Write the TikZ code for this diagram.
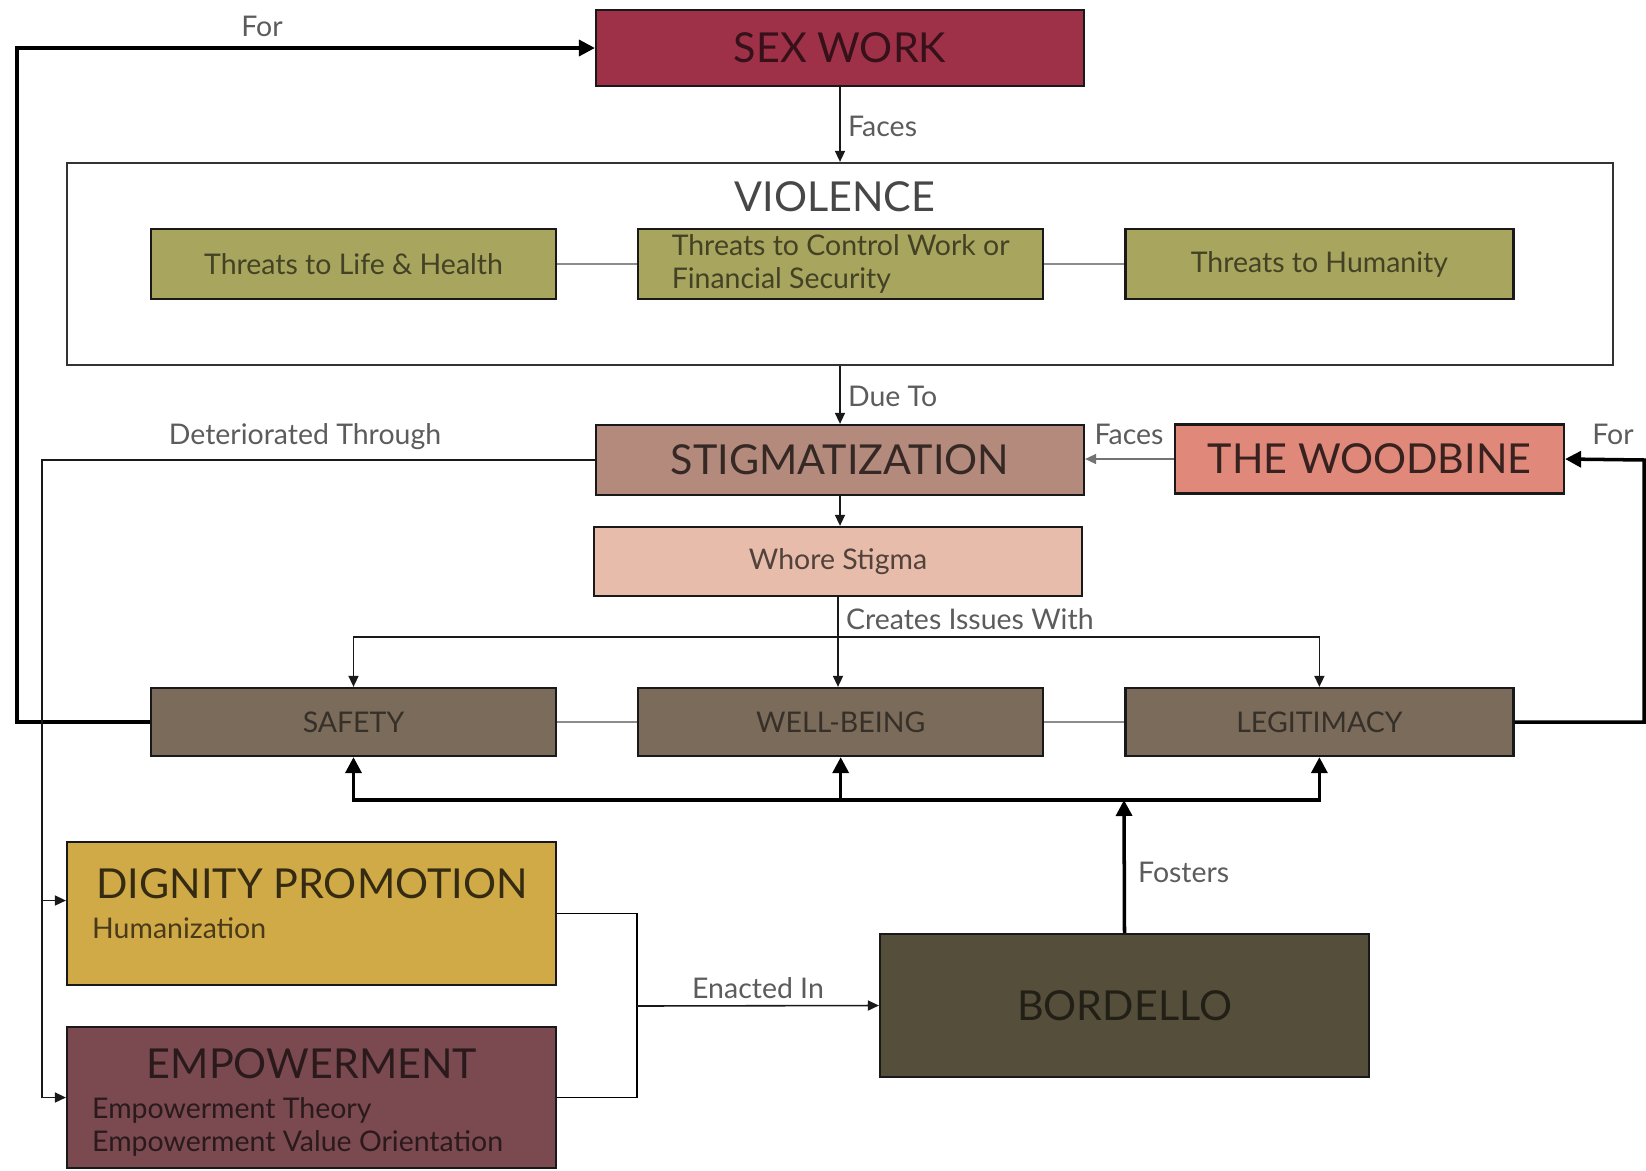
\documentclass[tikz,border=0pt]{standalone}
\usepackage{fontspec}
\setmainfont{Lato}
\usepackage{tikz}
\usetikzlibrary{
  arrows.meta,
  positioning
}
\definecolor{sexred}{HTML}{9E3148}
\definecolor{olivebox}{HTML}{A8A55E}
\definecolor{stigbox}{HTML}{B38A7C}
\definecolor{woodbox}{HTML}{E0887A}
\definecolor{whorebox}{HTML}{E8BCAA}
\definecolor{rowbox}{HTML}{7A6B5A}
\definecolor{dignbox}{HTML}{D1AA48}
\definecolor{empbox}{HTML}{7A4A50}
\definecolor{bordbox}{HTML}{544E3A}
\definecolor{lblgrey}{HTML}{5C5C5C}

\begin{document}
\begin{tikzpicture}[x=0.02cm, y=-0.02cm,
  box/.style={draw=black!90, line width=1.3pt, inner sep=0pt, align=center},
  bigtxt/.style={font=\fontsize{23.5}{27}\selectfont},
  smalltxt/.style={font=\fontsize{16.2}{19}\selectfont},
  lbl/.style={font=\fontsize{16.2}{19}\selectfont, text=lblgrey, inner sep=1pt},
  arr/.style={-{Triangle[length=2.2mm, width=2mm]}, line width=0.9pt, draw=black!90},
  thickarr/.style={-{Triangle[length=3.2mm, width=3.2mm]}, line width=2pt, draw=black},
  link/.style={line width=1.4pt, draw=black!45}
]
\useasboundingbox (0,0) rectangle (1646,1170);

% top
\node[box, bigtxt, fill=sexred, text=sexred!35!black, minimum width=9.76cm, minimum height=1.52cm]
  (sexwork) at (840,48) {SEX WORK};
\node[box, draw=black!80, minimum width=30.92cm, minimum height=4.04cm] (viol) at (840,264) {};
\node[bigtxt, text=black!72] (violtitle) at (835,197) {VIOLENCE};

% threats
\node[box, smalltxt, fill=olivebox, text=olivebox!40!black, minimum width=8.1cm, minimum height=1.4cm]
  (threat1) at (353.5,264) {Threats to Life \& Health};
\node[box, smalltxt, fill=olivebox, text=olivebox!40!black, minimum width=8.1cm, minimum height=1.4cm,
      align=left, right=1.6cm of threat1] (threat2) {Threats to Control Work or\\Financial Security};
\node[box, smalltxt, fill=olivebox, text=olivebox!40!black, minimum width=7.76cm, minimum height=1.4cm,
      right=1.6cm of threat2] (threat3) {Threats to Humanity};
\draw[link] (threat1) -- (threat2); \draw[link] (threat2) -- (threat3);

% stigma
\node[box, bigtxt, fill=stigbox, text=stigbox!30!black, minimum width=9.76cm, minimum height=1.4cm]
  (stigma) at (840,460) {STIGMATIZATION};
\node[box, bigtxt, fill=woodbox, text=woodbox!25!black, minimum width=7.78cm, minimum height=1.38cm]
  (woodbine) at (1369.5,459) {THE WOODBINE};
\node[box, smalltxt, fill=whorebox, text=whorebox!35!black, minimum width=9.76cm, minimum height=1.38cm]
  (whore) at (838,561.5) {Whore Stigma};

% issues
\node[box, smalltxt, fill=rowbox, text=rowbox!45!black, minimum width=8.1cm, minimum height=1.36cm]
  (safety) at (353.5,722) {SAFETY};
\node[box, smalltxt, fill=rowbox, text=rowbox!45!black, minimum width=8.1cm, minimum height=1.36cm,
      right=1.6cm of safety] (wellbeing) {WELL-BEING};
\node[box, smalltxt, fill=rowbox, text=rowbox!45!black, minimum width=7.76cm, minimum height=1.36cm,
      right=1.6cm of wellbeing] (legit) {LEGITIMACY};
\draw[link] (safety) -- (wellbeing); \draw[link] (wellbeing) -- (legit);

% bottom
\node[box, fill=dignbox, minimum width=9.78cm, minimum height=2.86cm] (dignity) at (311.5,913.5) {};
\node[bigtxt, text=dignbox!25!black] (digntitle) at (312,884) {DIGNITY PROMOTION};
\node[smalltxt, text=dignbox!35!black, anchor=west] (dignsub) at (86,928) {Humanization};
\node[box, fill=empbox, minimum width=9.78cm, minimum height=2.82cm] (empower) at (311.5,1097.5) {};
\node[bigtxt, text=empbox!35!black] (emptitle) at (312,1064) {EMPOWERMENT};
\node[smalltxt, text=empbox!35!black, anchor=west, align=left] (empsub) at (86,1127)
  {Empowerment Theory\\Empowerment Value Orientation};
\node[box, bigtxt, fill=bordbox, text=bordbox!40!black, minimum width=9.78cm, minimum height=2.86cm]
  (bordello) at (1124.5,1005.5) {BORDELLO};

\coordinate (det) at (42,460);
\coordinate (ci) at (838,637);
\coordinate (fo) at (1124,800);
\coordinate (en) at (637,1006);

% connectors
\draw[thickarr] (safety.west) -| (17,48) -- (sexwork.west);
\draw[arr] (sexwork.south) -- (viol.north);
\draw[arr] (viol.south) -- (stigma.north);
\draw[arr] (stigma.south) -- (stigma.south |- whore.north);
\draw[arr, draw=black!55] (woodbine.west) -- (woodbine.west -| stigma.east);
\draw[thickarr] (legit.east) -| (1644,460) -- (woodbine.east);
\draw[arr] (stigma.west) -- (det) |- ([yshift=0.26cm]dignity.west);
\draw[arr] (det) |- (empower.west);
\draw[arr] (whore.south) -- (whore.south |- wellbeing.north);
\draw[arr] (ci) -| (safety.north);
\draw[arr] (ci) -| (legit.north);
\draw[thickarr] (bordello.north) -- (fo);
\draw[thickarr] (fo) -| (safety.south);
\draw[thickarr] (fo) -| (legit.south);
\draw[thickarr] (wellbeing.south |- fo) -- (wellbeing.south);
\draw[line width=0.9pt] (dignity.east) -| (en) |- (empower.east);
\draw[arr] (en) -- (bordello.west);

% labels
\node[lbl] (lfor) at (262,26) {For};
\node[lbl, anchor=west] (lfaces) at (846,126) {Faces};
\node[lbl, anchor=west] (ldue) at (846,396) {Due To};
\node[lbl] (lfaces2) at (1129,434) {Faces};
\node[lbl] (lfor2) at (1613,434) {For};
\node[lbl] (ldet) at (305,437) {Deteriorated Through};
\node[lbl, anchor=west] (lcreate) at (844,619) {Creates Issues With};
\node[lbl, anchor=west] (lfost) at (1136,872) {Fosters};
\node[lbl] (lenact) at (758,988) {Enacted In};
\end{tikzpicture}
\end{document}
